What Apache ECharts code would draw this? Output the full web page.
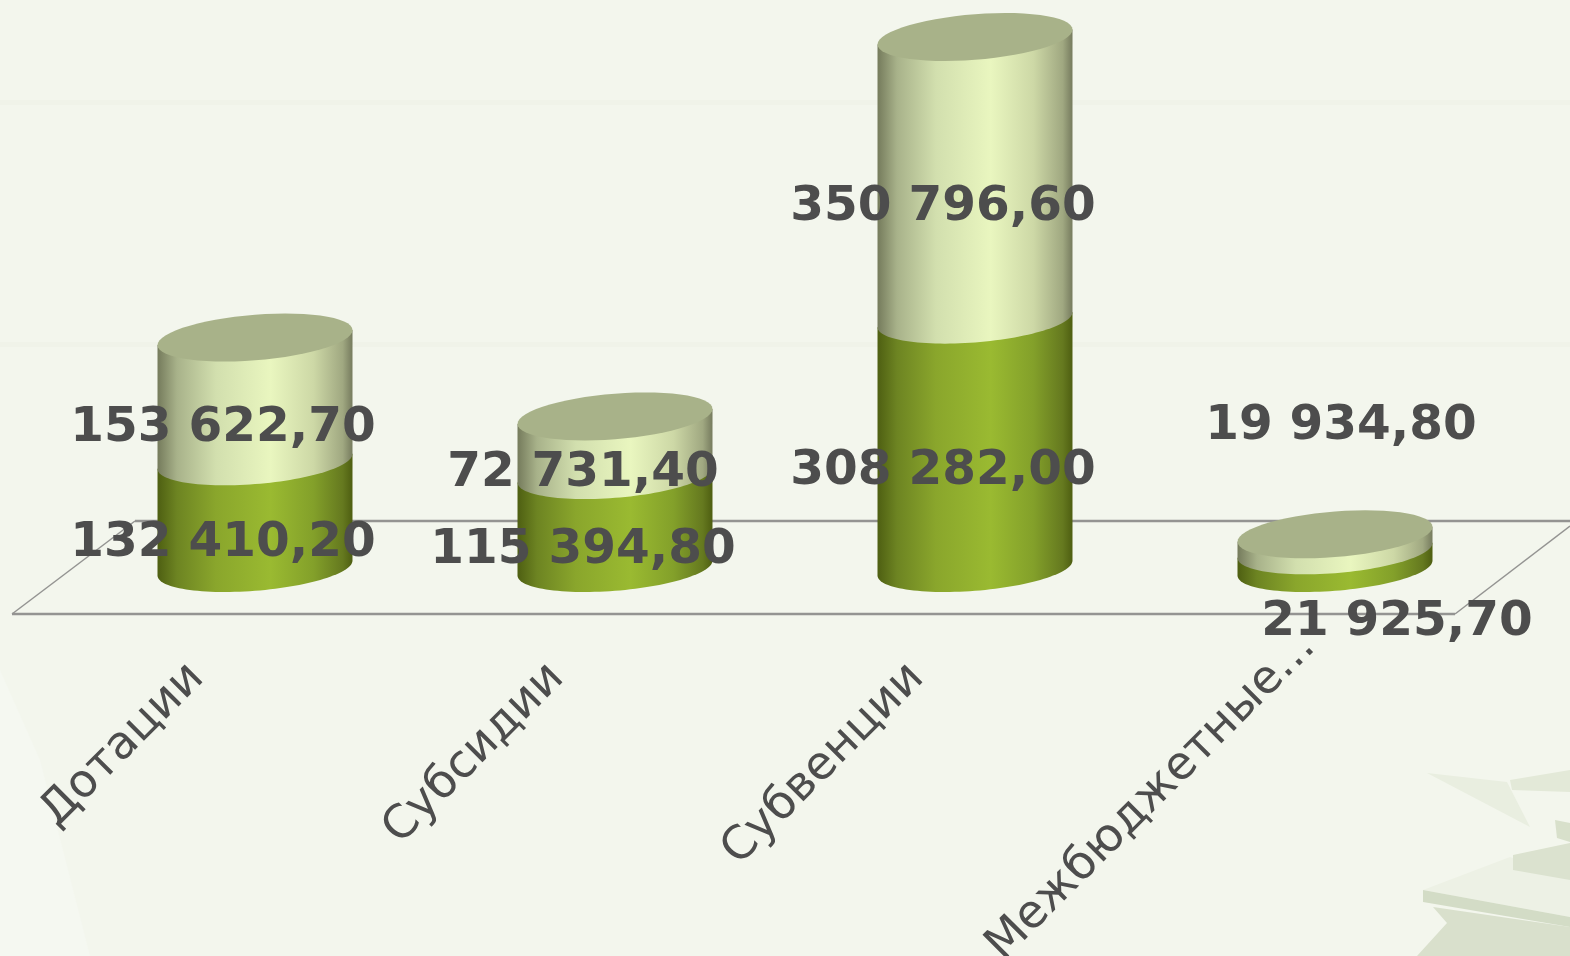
<!DOCTYPE html>
<html><head><meta charset="utf-8">
<style>html,body{margin:0;padding:0;background:#f3f6ed}#c{width:1570px;height:956px}</style>
<script src="https://cdn.jsdelivr.net/npm/echarts@6/dist/echarts.min.js"></script>
</head><body><div id="c"></div>
<script>
const categories = ['Дотации', 'Субсидии', 'Субвенции', 'Межбюджетные...'];
const lowerValues = [132410.2, 115394.8, 308282.0, 21925.7];
const upperValues = [153622.7, 72731.4, 350796.6, 19934.8];
const lowerLabels = ['132 410,20', '115 394,80', '308 282,00', '21 925,70'];
const upperLabels = ['153 622,70', '72 731,40', '350 796,60', '19 934,80'];
// label placement relative to the category centre and to the baseline (layout only)
const lowerLabelAt = [[-32, -25], [-32, -18], [-32, -97], [62, 54]];
const upperLabelAt = [[-32, -140], [-32, -95], [-32, -361], [6, -142]];

const TEXT = '#4d4d4d', FONT = '"DejaVu Sans", Verdana, sans-serif';
const grad = stops => new echarts.graphic.LinearGradient(0, 0, 1, 0,
  stops.map(s => ({offset: s[0], color: s[1]})));
const lightFill = grad([[0,'#757b5c'],[0.1,'#a8b28a'],[0.3,'#d2dfae'],[0.58,'#e9f6bf'],[0.8,'#cdd8a6'],[0.95,'#a0a881'],[1,'#767b5e']]);
const darkFill = grad([[0,'#4e5f12'],[0.1,'#6d8422'],[0.3,'#8aa62c'],[0.58,'#9aba31'],[0.8,'#83a02a'],[0.95,'#65791f'],[1,'#4e5e11']]);
const CAP = '#a8b289';

function ringPoints(cx, cy, rx, ry, tilt, from, to) {
  const pts = [];
  for (let i = 0; i <= 60; i++) {
    const t = from + (to - from) * i / 60;
    const x = Math.cos(t);
    pts.push([cx + rx * x, cy + ry * Math.sin(t) - tilt * x]);
  }
  return pts;
}

function cylinder(params, api, fill, withCap, labels, labelAt, stackBase) {
  const i = api.value(0);
  const base = stackBase[i], val = api.value(1);
  const p0 = api.coord([i, base]), p1 = api.coord([i, base + val]);
  const band = api.size([1, 0])[0];
  const rx = band * 0.2708, ry = 22.8, tilt = 7.5, cx = p0[0];
  const lower = ringPoints(cx, p0[1], rx, ry, tilt, 0, Math.PI);
  const body = [[cx + rx, p1[1] - tilt]].concat(lower, [[cx - rx, p1[1] + tilt]]);
  const els = [{type: 'polygon', shape: {points: body}, style: {fill}}];
  if (withCap) {
    els.push({type: 'polygon', shape: {points: ringPoints(cx, p1[1], rx, ry, tilt, 0, Math.PI * 2)}, style: {fill: CAP}});
  }
  els.push({type: 'text', z2: 100, style: {
    text: labels[i], x: cx + labelAt[i][0], y: api.coord([i, 0])[1] + labelAt[i][1],
    align: 'center', verticalAlign: 'middle', fill: TEXT,
    font: 'bold 48.5px ' + FONT}});
  return {type: 'group', children: els};
}

const decor = (points, fill) => ({type: 'polygon', silent: true, z: -5, shape: {points}, style: {fill}});
const floorLine = (points, lineWidth) => ({type: 'polyline', silent: true, z: -3, shape: {points},
  style: {stroke: '#949492', lineWidth, fill: null}});
const zeros = categories.map(() => 0);
const chart = echarts.init(document.getElementById('c'), null, {renderer: 'canvas'});
chart.setOption({
  animation: false,
  backgroundColor: '#f3f6ed',
  grid: {left: 75, right: 55, top: 0, bottom: 388, containLabel: false, outerBoundsMode: 'none'},
  xAxis: {
    type: 'category', data: categories,
    axisLine: {show: false}, axisTick: {show: false}, splitLine: {show: false},
    axisLabel: {rotate: 45, interval: 0, margin: 45, hideOverlap: false, color: TEXT,
      fontFamily: FONT, fontSize: 46,
      formatter: v => (v.endsWith('...') ? '{far|' : '{near|') + v + '}',
      rich: {
        near: {fontSize: 46, fontFamily: FONT, color: TEXT, padding: [0, 82, 0, 0]},
        far: {fontSize: 46, fontFamily: FONT, color: TEXT, padding: [0, 38, 0, 0]}
      }}
  },
  yAxis: {type: 'value', min: 0, max: 705000, show: false},
  graphic: [
    decor([[1427,773],[1507,782],[1530,827]], '#e9eee0'),
    decor([[1510,780],[1570,770],[1570,792],[1512,790]], '#e3e9d8'),
    decor([[1423,890],[1510,857],[1570,880],[1570,917]], '#edf1e5'),
    decor([[1433,907],[1570,927],[1570,956],[1417,956],[1447,923]], '#d9e0cc'),
    decor([[1423,890],[1570,917],[1570,927],[1423,902]], '#d3dcc6'),
    decor([[1513,855],[1570,843],[1570,880],[1513,870]], '#dbe2cf'),
    decor([[1555,820],[1570,823],[1570,842],[1557,838]], '#d8e0cb'),
    decor([[0,670],[40,760],[90,956],[0,956]], '#f5f8f1'),
    {type: 'rect', silent: true, z: -4, shape: {x: 0, y: 100, width: 1570, height: 5}, style: {fill: '#f0f3e9'}},
    {type: 'rect', silent: true, z: -4, shape: {x: 0, y: 342, width: 1570, height: 5}, style: {fill: '#f0f3e9'}},
    floorLine([[135,521],[1570,521]], 2.5),
    floorLine([[12,614],[1455,614]], 2.5),
    floorLine([[135,521],[12,614]], 1.5),
    floorLine([[1455,614],[1570,526]], 1.5)
  ],
  series: [
    {type: 'custom', name: 'lower', coordinateSystem: 'cartesian2d',
      encode: {x: 0, y: 1}, clip: false, data: lowerValues.map((v, i) => [i, v]),
      renderItem: (p, api) => cylinder(p, api, darkFill, false, lowerLabels, lowerLabelAt, zeros)},
    {type: 'custom', name: 'upper', coordinateSystem: 'cartesian2d',
      encode: {x: 0, y: 1}, clip: false, data: upperValues.map((v, i) => [i, v]),
      renderItem: (p, api) => cylinder(p, api, lightFill, true, upperLabels, upperLabelAt, lowerValues)}
  ]
});
</script></body></html>
